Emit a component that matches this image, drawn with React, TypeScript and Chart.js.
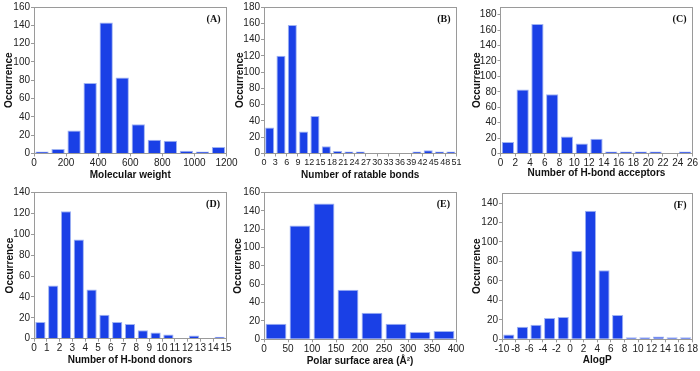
import React, { useEffect, useRef } from "react";
import { Chart, registerables } from "chart.js";

Chart.register(...registerables);

// ---------- data ----------
const mwBinStarts = [0, 100, 200, 300, 400, 500, 600, 700, 800, 900, 1000, 1100];
const mwCounts = [1, 5, 25, 77, 143, 83, 32, 15, 14, 3, 1, 7];
const mwTicks = [0, 200, 400, 600, 800, 1000, 1200];

const rbBinStarts = [0, 3, 6, 9, 12, 15, 18, 21, 24, 27, 30, 33, 36, 39, 42, 45, 48];
const rbCounts = [32, 120, 158, 27, 46, 9, 3, 2, 1, 0, 0, 0, 0, 1, 4, 2, 1];
const rbTicks = [0, 3, 6, 9, 12, 15, 18, 21, 24, 27, 30, 33, 36, 39, 42, 45, 48, 51];

const hbaBinStarts = [0, 2, 4, 6, 8, 10, 12, 14, 16, 18, 20, 22, 24];
const hbaCounts = [15, 83, 168, 77, 22, 13, 19, 2, 2, 2, 2, 0, 1];
const hbaTicks = [0, 2, 4, 6, 8, 10, 12, 14, 16, 18, 20, 22, 24, 26];

const hbdBinStarts = [0, 1, 2, 3, 4, 5, 6, 7, 8, 9, 10, 11, 12, 13, 14];
const hbdCounts = [16, 51, 122, 95, 47, 23, 16, 14, 8, 6, 4, 0, 3, 0, 1];
const hbdTicks = [0, 1, 2, 3, 4, 5, 6, 7, 8, 9, 10, 11, 12, 13, 14, 15];

const psaBinStarts = [0, 50, 100, 150, 200, 250, 300, 350];
const psaCounts = [17, 124, 148, 54, 29, 17, 8, 9];
const psaTicks = [0, 50, 100, 150, 200, 250, 300, 350, 400];

const alogpBinStarts = [-10, -8, -6, -4, -2, 0, 2, 4, 6, 8, 10, 12, 14, 16];
const alogpCounts = [5, 13, 15, 22, 23, 91, 132, 71, 25, 1, 2, 3, 2, 1];
const alogpTicks = [-10, -8, -6, -4, -2, 0, 2, 4, 6, 8, 10, 12, 14, 16, 18];

const yTicks140 = [0, 20, 40, 60, 80, 100, 120, 140];
const yTicks160 = [0, 20, 40, 60, 80, 100, 120, 140, 160];
const yTicks180 = [0, 20, 40, 60, 80, 100, 120, 140, 160, 180];

// ---------- style ----------
const W = 700;
const H = 371;
const FONT = '"Liberation Sans", Arial, Helvetica, sans-serif';
const SERIF = '"Liberation Serif", "Times New Roman", serif';
const GRAY = "#9a9a9a";
const BAR_FILL = "#1a40e6";
const BAR_EDGE = "#9fb3f2";

type Panel = {
  label: string;
  xTitle: string;
  starts: number[];
  counts: number[];
  xTicks: number[];
  yTicks: number[];
  xMin: number;
  xMax: number;
  yMax: number;
  L: number;
  R: number;
  T: number;
  B: number;
  Wy: number;
  Hx: number;
  barPct: number;
  tickFont: number;
};

const panels: Panel[] = [
  { label: "(A)", xTitle: "Molecular weight", starts: mwBinStarts, counts: mwCounts, xTicks: mwTicks, yTicks: yTicks160,
    xMin: 0, xMax: 1200, yMax: 160, L: 34, R: 226.5, T: 7, B: 153.5, Wy: 30.5, Hx: 27.5, barPct: 0.83, tickFont: 10 },
  { label: "(B)", xTitle: "Number of ratable bonds", starts: rbBinStarts, counts: rbCounts, xTicks: rbTicks, yTicks: yTicks180,
    xMin: 0, xMax: 51, yMax: 180, L: 264, R: 456.5, T: 7, B: 153.5, Wy: 30, Hx: 27.5, barPct: 0.8, tickFont: 9 },
  { label: "(C)", xTitle: "Number of H-bond acceptors", starts: hbaBinStarts, counts: hbaCounts, xTicks: hbaTicks, yTicks: yTicks180,
    xMin: 0, xMax: 26, yMax: 190, L: 500.5, R: 692.5, T: 7, B: 153.5, Wy: 29.5, Hx: 26, barPct: 0.83, tickFont: 10 },
  { label: "(D)", xTitle: "Number of H-bond donors", starts: hbdBinStarts, counts: hbdCounts, xTicks: hbdTicks, yTicks: yTicks140,
    xMin: 0, xMax: 15, yMax: 140, L: 34, R: 226, T: 192.5, B: 338.7, Wy: 30, Hx: 27.3, barPct: 0.8, tickFont: 10 },
  { label: "(E)", xTitle: "Polar surface area (Å²)", starts: psaBinStarts, counts: psaCounts, xTicks: psaTicks, yTicks: yTicks160,
    xMin: 0, xMax: 400, yMax: 160, L: 264, R: 456, T: 192.5, B: 339.3, Wy: 31.5, Hx: 28.2, barPct: 0.87, tickFont: 10 },
  { label: "(F)", xTitle: "AlogP", starts: alogpBinStarts, counts: alogpCounts, xTicks: alogpTicks, yTicks: yTicks140,
    xMin: -10, xMax: 18, yMax: 150, L: 502, R: 692.5, T: 193.3, B: 339.3, Wy: 31, Hx: 26.7, barPct: 0.82, tickFont: 10 },
];

const align = (v: number) => Math.round(v - 0.5) + 0.5;

const framePlugin = {
  id: "panelFrame",
  afterDatasetsDraw(chart: any, _args: any, opts: any) {
    const { ctx, chartArea } = chart;
    const l = align(chartArea.left);
    const r = align(chartArea.right);
    const t = align(chartArea.top);
    const b = align(chartArea.bottom);
    ctx.save();
    ctx.strokeStyle = GRAY;
    ctx.lineWidth = 1;
    ctx.strokeRect(l, t, r - l, b - t);
    ctx.font = `bold 10px ${SERIF}`;
    ctx.fillStyle = "#111";
    ctx.textAlign = "right";
    ctx.textBaseline = "middle";
    ctx.fillText(opts.text, chartArea.right - 6, chartArea.top + 12);
    ctx.restore();
  },
};

function makeConfig(p: Panel): any {
  const binWidth = p.starts[1] - p.starts[0];
  const points = p.starts.map((s, i) => ({ x: s + binWidth / 2, y: p.counts[i] === 0 ? null : p.counts[i] }));
  return {
    type: "bar",
    data: {
      datasets: [
        {
          data: points,
          backgroundColor: BAR_FILL,
          borderColor: BAR_EDGE,
          borderWidth: 1,
          minBarLength: 2,
          barPercentage: p.barPct,
          categoryPercentage: 1,
        },
      ],
    },
    options: {
      animation: false,
      responsive: false,
      events: [],
      layout: {
        padding: {
          left: p.L - p.Wy,
          right: W - p.R,
          top: p.T,
          bottom: H - p.B - p.Hx,
        },
      },
      plugins: {
        legend: { display: false },
        tooltip: { enabled: false },
        panelFrame: { text: p.label },
      },
      scales: {
        x: {
          type: "linear",
          min: p.xMin,
          max: p.xMax,
          offset: false,
          afterBuildTicks: (s: any) => {
            s.ticks = p.xTicks.map((v) => ({ value: v }));
          },
          afterFit: (s: any) => {
            s.height = p.Hx;
          },
          ticks: {
            autoSkip: false,
            maxRotation: 0,
            minRotation: 0,
            padding: 1,
            color: "#222",
            font: { family: FONT, size: p.tickFont },
            callback: (v: any) => String(v),
          },
          grid: { offset: false, drawOnChartArea: false, drawTicks: true, tickLength: 3, color: GRAY },
          border: { display: false },
          title: {
            display: true,
            text: p.xTitle,
            color: "#111",
            padding: 0,
            font: { family: FONT, size: 10, weight: "bold" },
          },
        },
        y: {
          type: "linear",
          min: 0,
          max: p.yMax,
          afterBuildTicks: (s: any) => {
            s.ticks = p.yTicks.map((v) => ({ value: v }));
          },
          afterFit: (s: any) => {
            s.width = p.Wy;
          },
          ticks: {
            padding: 1,
            color: "#222",
            font: { family: FONT, size: 10 },
            callback: (v: any) => String(v),
          },
          grid: { drawOnChartArea: false, drawTicks: true, tickLength: 3, color: GRAY },
          border: { display: false },
          title: {
            display: true,
            text: "Occurrence",
            color: "#111",
            padding: 0,
            font: { family: FONT, size: 10, weight: "bold" },
          },
        },
      },
    },
    plugins: [framePlugin],
  };
}

function PanelChart({ p }: { p: Panel }) {
  const ref = useRef<HTMLCanvasElement | null>(null);
  useEffect(() => {
    if (!ref.current) return;
    const chart = new Chart(ref.current, makeConfig(p));
    return () => chart.destroy();
  }, [p]);
  return (
    <canvas
      ref={ref}
      width={W}
      height={H}
      style={{ position: "absolute", left: 0, top: 0, width: W, height: H }}
    />
  );
}

export default function App() {
  return (
    <div style={{ position: "absolute", left: 0, top: 0, width: W, height: H, background: "#fff" }}>
      {panels.map((p) => (
        <PanelChart key={p.label} p={p} />
      ))}
    </div>
  );
}
